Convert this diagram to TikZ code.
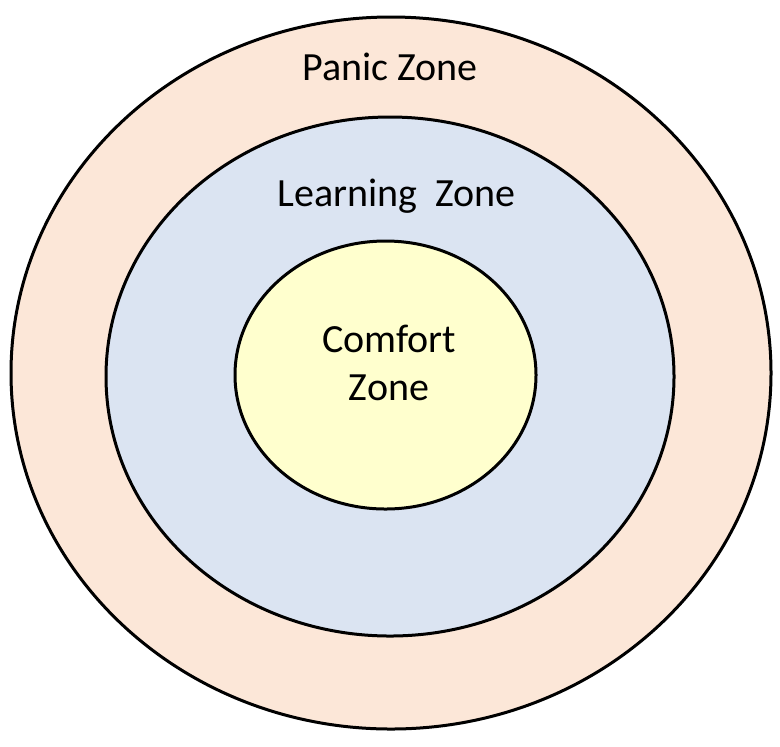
\documentclass[tikz,border=0pt]{standalone}
\usepackage{fontspec}
\setmainfont{Carlito}
\usepackage{tikz}
\usetikzlibrary{shapes.geometric}

\definecolor{panicfill}{RGB}{252,231,216}
\definecolor{learnfill}{RGB}{219,228,242}
\definecolor{comfortfill}{RGB}{255,255,206}

\begin{document}
\begin{tikzpicture}[x=0.5pt, y=-0.5pt]
\tikzstyle{zone}=[ellipse, draw, line width=1.5pt, inner sep=0pt]
\tikzstyle{zonetext}=[font=\fontsize{20}{24}\selectfont, inner sep=0pt]
\useasboundingbox (0,0) rectangle (780,746);
\node[zone, fill=panicfill, minimum width=380pt, minimum height=356pt] (Panic) at (391,373) {};
\node[zone, fill=learnfill, minimum width=284pt, minimum height=259.5pt] (Learning) at (390,376.5) {};
\node[zone, fill=comfortfill, minimum width=150.5pt, minimum height=134pt] (Comfort) at (385.5,375) {};
\node[zonetext, anchor=base] (PanicText) at (390,80) {Panic Zone};
\node[zonetext, anchor=base] (LearningText) at (396.5,206) {Learning\ \ Zone};
\node[zonetext, align=center] (ComfortText) at (389,363) {Comfort\\Zone};
\end{tikzpicture}
\end{document}
